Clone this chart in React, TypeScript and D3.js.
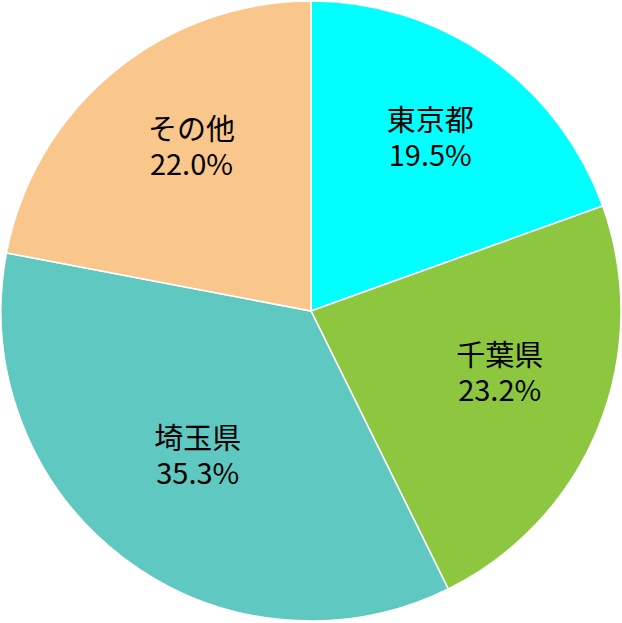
import * as d3 from "d3";

const categories = ["東京都", "千葉県", "埼玉県", "その他"];
const shares = [19.5, 23.2, 35.3, 22.0];
const colors = ["#00ffff", "#8dc63f", "#5fc8c0", "#f9c68c"];

const width = 622;
const height = 623;

export default function App() {
  const cx = 311;
  const cy = 311;
  const radius = 310;
  const labelRadius = 197;
  const fontSize = 29;
  const lineGap = 35;

  const pie = d3
    .pie<number>()
    .sort(null)
    .value((d) => d);
  const arcs = pie(shares);

  const arc = d3.arc<d3.PieArcDatum<number>>().innerRadius(0).outerRadius(radius);
  const labelArc = d3
    .arc<d3.PieArcDatum<number>>()
    .innerRadius(labelRadius)
    .outerRadius(labelRadius);

  return (
    <svg
      width={width}
      height={height}
      style={{ position: "absolute", left: 0, top: 0, background: "#fff" }}
      fontFamily="'Noto Sans CJK JP', 'Noto Sans', sans-serif"
    >
      <g transform={`translate(${cx},${cy})`}>
        {arcs.map((a, i) => (
          <path
            key={categories[i]}
            d={arc(a) || ""}
            fill={colors[i]}
            stroke="#fff"
            strokeWidth={1.5}
          />
        ))}
      </g>
      {/* labels sit slightly up-right of the pie centroids, like the original */}
      <g transform={`translate(${cx + 6},${cy - 12})`}>
        {arcs.map((a, i) => {
          const [x, y] = labelArc.centroid(a);
          return (
            <text
              key={categories[i]}
              textAnchor="middle"
              fontSize={fontSize}
              fill="#000"
            >
              <tspan x={x} y={y - 7}>
                {categories[i]}
              </tspan>
              <tspan x={x} y={y - 7 + lineGap}>
                {shares[i].toFixed(1)}%
              </tspan>
            </text>
          );
        })}
      </g>
    </svg>
  );
}
